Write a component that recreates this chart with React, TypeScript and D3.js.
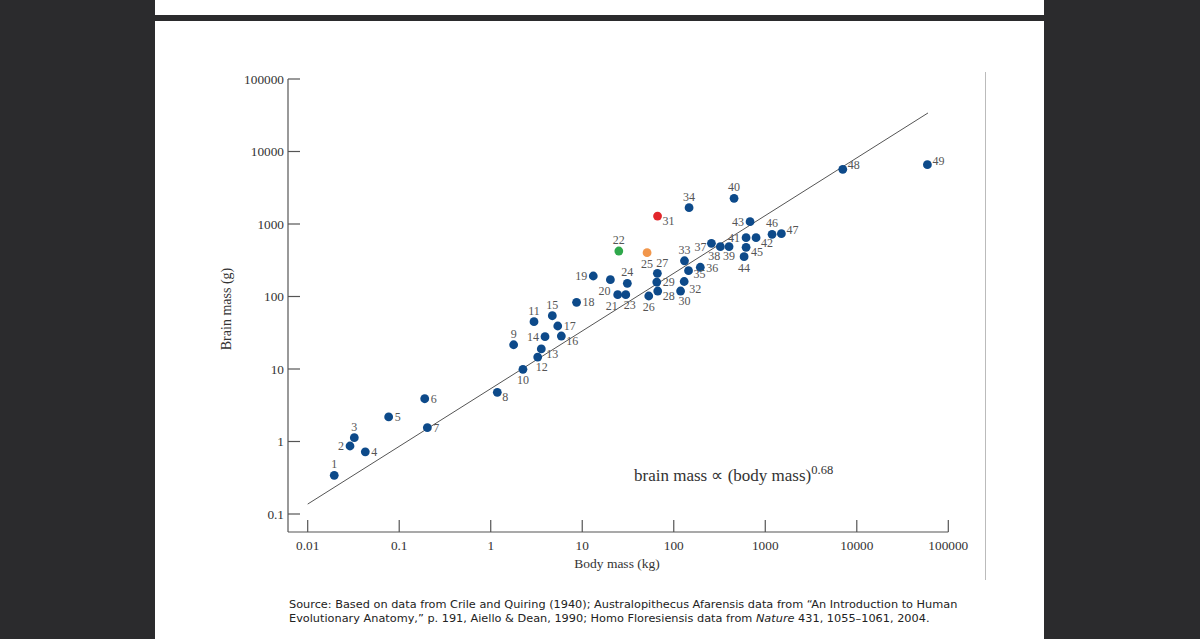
import React from "react";
import * as d3 from "d3";

// Data (body mass kg, brain mass g)
const ids = Array.from({ length: 49 }, (_, i) => i + 1);
const bodyMass = [
  0.0195, 0.029, 0.0323, 0.0426, 0.0767, 0.19, 0.203, 1.18, 1.78, 2.25,
  2.97, 3.26, 3.57, 3.92, 4.71, 5.91, 5.4, 8.67, 13.2, 20.3,
  24.4, 25.1, 29.9, 31.1, 51.1, 53.3, 66.2, 66.8, 65.2, 118.7,
  66.5, 130, 131, 147, 145, 195, 258, 323, 402, 456,
  617, 793, 682, 587, 617, 1186, 1500, 7030, 59100,
];
const brainMass = [
  0.342, 0.867, 1.13, 0.72, 2.18, 3.89, 1.55, 4.77, 21.6, 9.9,
  44.9, 14.6, 18.9, 27.9, 54.3, 28.5, 39.2, 83.2, 191.8, 170.6,
  105.9, 424, 105.9, 152, 402, 101.6, 209, 119, 158, 119,
  1288, 161, 311, 1679, 227, 253, 542, 486, 486, 2261,
  647, 647, 1076, 354, 477, 721, 735, 5680, 6580,
];
// label placement relative to each point
const labelPlace = [
  "t", "l", "t", "r", "r", "r", "r", "rb", "t", "b",
  "t", "br", "rb", "l", "t", "rb", "r", "r", "l", "bl",
  "bl", "t", "br", "t", "b", "b", "tr", "rb", "r", "br",
  "rb", "rb2", "t", "t", "rb1", "r2", "lb", "bl2", "b2", "t",
  "l", "rb", "l", "b", "rb", "t", "ru", "ru", "ru",
];
const highlight: Record<number, string> = { 22: "#2fa84b", 25: "#f1964b", 31: "#e2262b" };

const xTicks = [0.01, 0.1, 1, 10, 100, 1000, 10000, 100000];
const xTickLabels = ["0.01", "0.1", "1", "10", "100", "1000", "10000", "100000"];
const yTicks = [0.1, 1, 10, 100, 1000, 10000, 100000];
const yTickLabels = ["0.1", "1", "10", "100", "1000", "10000", "100000"];
const fitLine = [
  [0.01, 0.137],
  [60000, 34000],
];

const placeMap: Record<string, { a: string; dx: number; dy: number }> = {
  t: { a: "middle", dx: 0, dy: -7 },
  b: { a: "middle", dx: 0, dy: 15 },
  b2: { a: "middle", dx: 0, dy: 13 },
  bl: { a: "middle", dx: -6, dy: 15 },
  bl2: { a: "middle", dx: -6, dy: 13 },
  br: { a: "middle", dx: 4, dy: 14 },
  l: { a: "end", dx: -6, dy: 4 },
  lb: { a: "end", dx: -5, dy: 8 },
  r: { a: "start", dx: 6, dy: 4 },
  r2: { a: "start", dx: 6, dy: 5 },
  rb: { a: "start", dx: 5, dy: 9 },
  rb1: { a: "start", dx: 5, dy: 7 },
  rb2: { a: "start", dx: 5, dy: 11 },
  tr: { a: "middle", dx: 5, dy: -6 },
  ru: { a: "start", dx: 5, dy: 0 },
};

export default function App() {
  const x = d3.scaleLog().domain([0.01, 100000]).range([307.7, 948.3]);
  const y = d3.scaleLog().domain([0.1, 100000]).range([514, 79]);
  const serif = "'Liberation Serif', 'Times New Roman', serif";
  const axisY = 532;
  const axisX = 288;
  const lineGen = d3
    .line<number[]>()
    .x((d) => x(d[0]))
    .y((d) => y(d[1]));

  return (
    <svg
      width={1200}
      height={639}
      style={{ position: "absolute", left: 0, top: 0, display: "block" }}
    >
      <rect x={0} y={0} width={1200} height={639} fill="#2b2b2d" />
      <rect x={155} y={0} width={889} height={639} fill="#ffffff" />
      <rect x={155} y={15} width={889} height={6} fill="#2b2b2d" />
      <line x1={985.5} x2={985.5} y1={72} y2={580} stroke="#bbbbbb" strokeWidth={1} />

      {/* axes */}
      <g stroke="#555" strokeWidth={1.2} fill="none">
        <line x1={axisX} x2={axisX} y1={y(100000)} y2={axisY} />
        <line x1={axisX} x2={x(100000)} y1={axisY} y2={axisY} />
        {yTicks.map((t) => (
          <line key={"yt" + t} x1={axisX} x2={axisX + 12} y1={y(t)} y2={y(t)} />
        ))}
        {xTicks.map((t) => (
          <line key={"xt" + t} x1={x(t)} x2={x(t)} y1={axisY} y2={axisY - 12} />
        ))}
      </g>
      <g fontFamily={serif} fontSize={13.3} fill="#333">
        {yTicks.map((t, i) => (
          <text key={"yl" + t} x={axisX - 4} y={y(t) + 4.5} textAnchor="end">
            {yTickLabels[i]}
          </text>
        ))}
        {xTicks.map((t, i) => (
          <text key={"xl" + t} x={x(t)} y={550} textAnchor="middle">
            {xTickLabels[i]}
          </text>
        ))}
      </g>
      <text x={617} y={568} fontFamily={serif} fontSize={13.5} fill="#333" textAnchor="middle">
        Body mass (kg)
      </text>
      <text
        transform={`translate(231,309) rotate(-90)`}
        fontFamily={serif}
        fontSize={14}
        fill="#333"
        textAnchor="middle"
      >
        Brain mass (g)
      </text>

      {/* fit line */}
      <path d={lineGen(fitLine) || ""} stroke="#555" strokeWidth={1} fill="none" />

      {/* points */}
      {ids.map((id, i) => (
        <circle
          key={"p" + id}
          cx={x(bodyMass[i])}
          cy={y(brainMass[i])}
          r={4.4}
          fill={highlight[id] || "#0d4a8a"}
        />
      ))}
      <g fontFamily={serif} fontSize={12} fill="#555">
        {ids.map((id, i) => {
          const p = placeMap[labelPlace[i]];
          return (
            <text
              key={"l" + id}
              x={x(bodyMass[i]) + p.dx}
              y={y(brainMass[i]) + p.dy}
              textAnchor={p.a}
            >
              {id}
            </text>
          );
        })}
      </g>

      {/* annotation */}
      <text x={634} y={481} fontFamily={serif} fontSize={17} fill="#333">
        brain mass ∝ (body mass)
        <tspan fontSize={12.5} dy={-7}>0.68</tspan>
      </text>

      {/* source */}
      <g fontFamily="'DejaVu Sans', Verdana, sans-serif" fontSize={11.3} fill="#222">
        <text x={289} y={608}>
          Source: Based on data from Crile and Quiring (1940); Australopithecus Afarensis data from “An Introduction to Human
        </text>
        <text x={289} y={622}>
          Evolutionary Anatomy,” p. 191, Aiello &amp; Dean, 1990; Homo Floresiensis data from{" "}
          <tspan fontStyle="italic">Nature</tspan> 431, 1055–1061, 2004.
        </text>
      </g>
    </svg>
  );
}
